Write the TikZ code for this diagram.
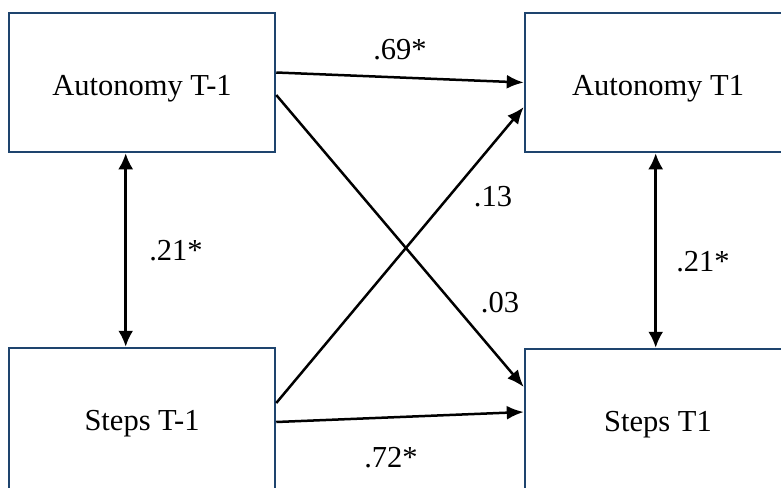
\documentclass[tikz,border=0pt]{standalone}
\usepackage{fontspec}
\setmainfont{Liberation Serif}
\usepackage{tikz}
\usetikzlibrary{arrows.meta}
\definecolor{boxblue}{RGB}{30,68,110}
\tikzset{
  varbox/.style={draw=boxblue, line width=2.5pt, minimum width=266pt, minimum height=139pt, text height=25pt, text depth=0pt},
  lowbox/.style={varbox, minimum height=145pt, text height=19pt},
  path/.style={line width=2.5pt, -{Latex[length=17pt,width=14pt]}},
  cov/.style={line width=2.5pt, {Latex[length=16pt,width=15pt]}-{Latex[length=16pt,width=15pt]}}
}
\begin{document}
\begin{tikzpicture}[x=1pt, y=-1pt, font=\fontsize{30.5}{36}\selectfont]
\useasboundingbox (0,0) rectangle (781,487);
\node [varbox] (A1) at (142,82.5) {Autonomy T-1};
\node [varbox] (A2) at (658,82.5) {Autonomy T1};
\node [lowbox] (S1) at (142,420.5) {Steps T-1};
\node [lowbox] (S2) at (658,421.5) {Steps T1};

\draw [path] ([yshift=10pt]A1.east) -- (A2.west);
\draw [path] ([yshift=-12.5pt]A1.east) -- ([yshift=34.5pt]S2.west);
\draw [path] ([yshift=17.5pt]S1.east) -- ([yshift=-24.5pt]A2.west);
\draw [path] ([yshift=-1.5pt]S1.east) -- ([yshift=9.5pt]S2.west);
\draw [cov] ([xshift=-16.3pt]A1.south) -- ([xshift=-16.3pt]S1.north);
\draw [cov] ([xshift=-2.3pt]A2.south) -- ([xshift=-2.3pt]S2.north);

\node (l69) at (400,50) {.69*};
\node (l13) at (493,197) {.13};
\node (l03) at (500,303) {.03};
\node (l72) at (391,458) {.72*};
\node (l21a) at (176,251) {.21*};
\node (l21b) at (703,262) {.21*};
\end{tikzpicture}
\end{document}
